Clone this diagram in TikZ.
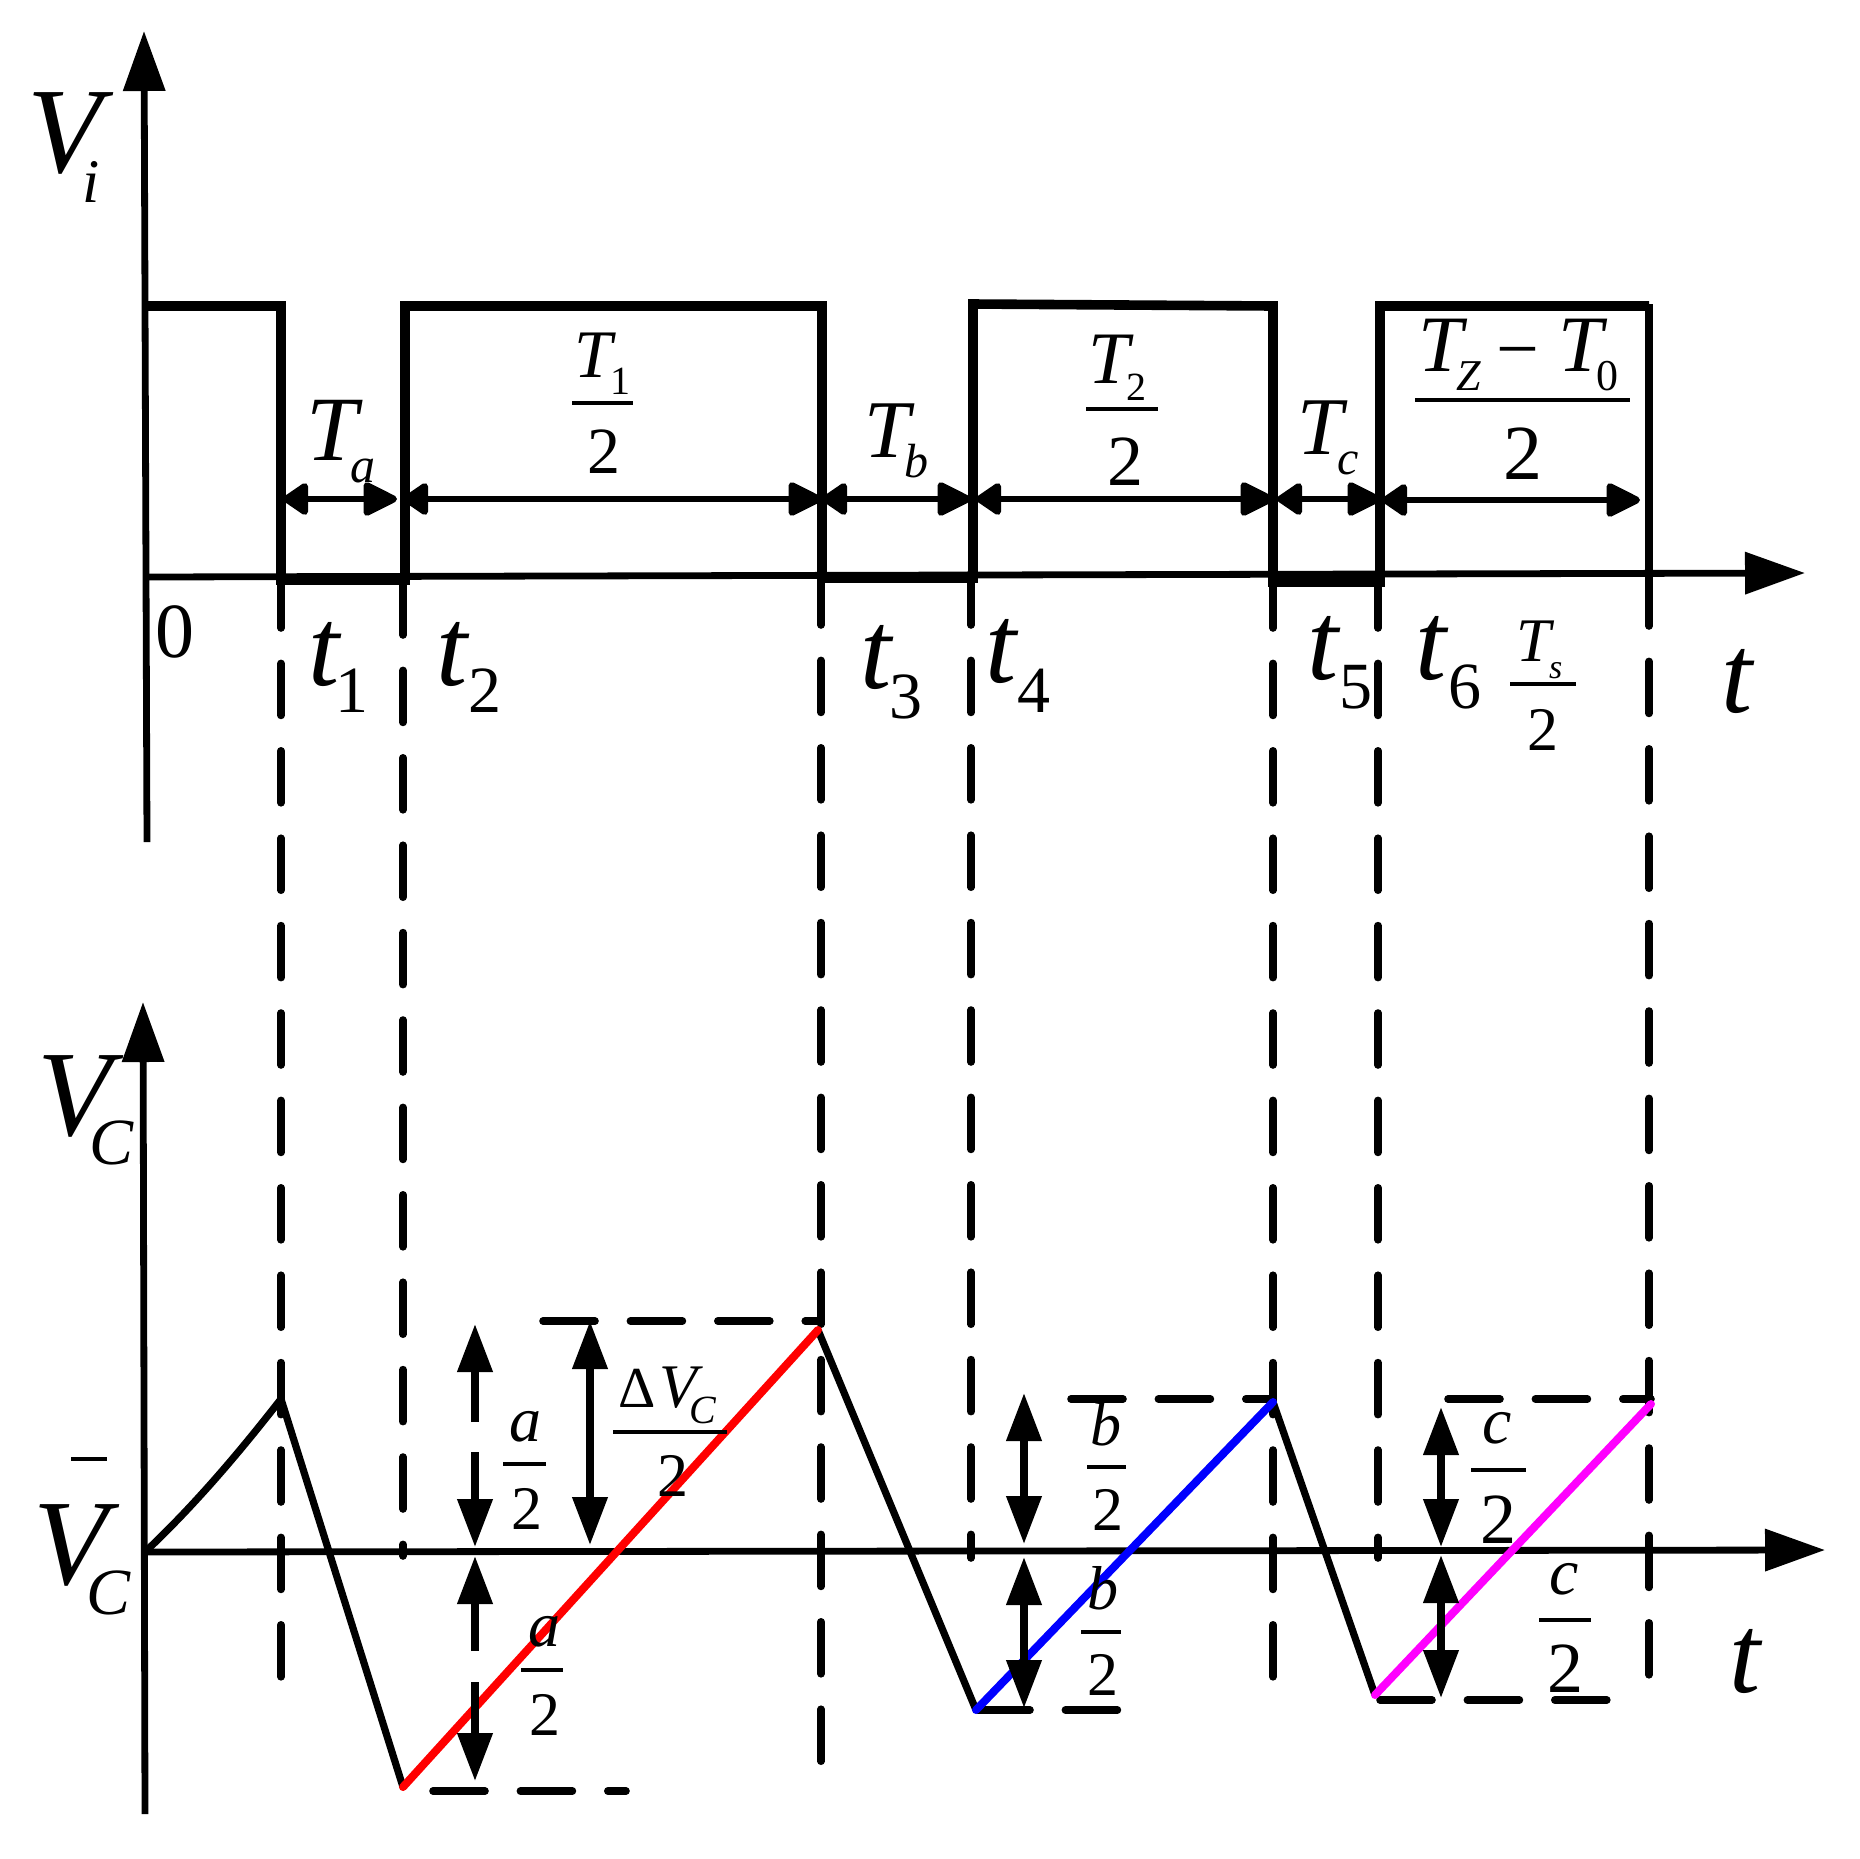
\documentclass[tikz,border=0pt]{standalone}
\usepackage{fontspec}
\setmainfont{Liberation Serif}
\usetikzlibrary{arrows.meta}
\definecolor{rampred}{RGB}{255,0,0}
\definecolor{rampblue}{RGB}{0,0,255}
\definecolor{rampmag}{RGB}{255,0,255}
\newcounter{lblc}
\newcommand{\lbl}[4]{\stepcounter{lblc}\node[txt,font=\fontsize{#3}{#3}\selectfont] (l\thelblc) at (#1,#2) {#4};}
\tikzset{
 txt/.style={inner sep=0pt,outer sep=0pt,anchor=base west,text=black},
 axisln/.style={line width=3.4pt,black},
 axishead/.style={-{Triangle[length=30pt,width=20.5pt]}},
 pulse/.style={line width=4.8pt,line join=miter,black},
 guide/.style={line width=3.8pt,line cap=round,dash pattern=on 26pt off 17.7pt,black},
 wave/.style={line width=3.6pt,line join=round,black},
 ramp/.style={line width=4pt,line cap=round},
 vshaft/.style={line width=3.7pt,black},
 vtip/.style={vshaft,-{Triangle[length=24pt,width=17pt]}},
 spanarrow/.style={line width=3.4pt,black,{Triangle[length=14pt,width=18pt,round]}-{Triangle[length=19pt,width=18pt,round]}},
 fracbar/.style={line width=2pt,black},
}
\begin{document}
\begin{tikzpicture}[x=0.5pt,y=-0.5pt]
\useasboundingbox (0,0) rectangle (1859,1859);
% time guides
\foreach \n/\x/\ya/\yb in {g1/281/576/1688,g2/403/583/1556,g3/821/573/1772,g4/971/573/1558,g5/1273/576/1685,g6/1378/576/1558,g7/1649/574/1684}{
  \coordinate (\n a) at (\x,\ya);
  \coordinate (\n b) at (\x,\yb);
  \draw[guide] (\n a) -- (\n b);
}
% horizontal level guides
\foreach \n/\xa/\xb/\y in {ha/543/821/1321,hb/433/626/1791,hc/1071/1273/1399,hd/1448/1651/1399,he/978/1122/1710,hf/1380/1610/1700}{
  \coordinate (\n a) at (\xa,\y);
  \coordinate (\n b) at (\xb,\y);
  \draw[guide] (\n a) -- (\n b);
}
% axes of upper plot
\coordinate (v1b) at (147,842); \coordinate (v1t) at (144,31);
\coordinate (h1l) at (147,577); \coordinate (h1r) at (1805,573);
\draw[axisln,axishead] (v1b) -- (v1t);
\draw[axisln,axishead] (h1l) -- (h1r);
% pulses
\draw[pulse] (147,306) -- (281,306) -- (281,580) -- (405,580) -- (405,306) -- (822,306) -- (822,578) -- (973,578)
  -- (973,304) -- (1273,306) -- (1273,582) -- (1380,582) -- (1380,306) -- (1649,306);
\draw[axisln,line width=3.8pt] (1649,304) -- (1649,574);
% axes of lower plot
\coordinate (v2b) at (145,1814); \coordinate (v2t) at (143,1002);
\coordinate (h2l) at (145,1552); \coordinate (h2r) at (1825,1550);
\draw[axisln,axishead] (v2b) -- (v2t);
\draw[axisln,axishead] (h2l) -- (h2r);
% waveform
\coordinate (w0) at (145,1552); \coordinate (w1) at (281,1399); \coordinate (w2) at (403,1787);
\coordinate (w3) at (818,1330); \coordinate (w4) at (976,1710); \coordinate (w5) at (1273,1402);
\coordinate (w6) at (1375,1695); \coordinate (w7) at (1651,1404);
\draw[wave] (w0) .. controls (200,1500) and (245,1445) .. (w1);
\draw[wave] (w1) -- (w2);
\draw[wave] (w3) -- (w4);
\draw[wave] (w5) -- (w6);
\draw[ramp,rampred] (w2) -- (w3);
\draw[ramp,rampblue] (w4) -- (w5);
\draw[ramp,rampmag] (w6) -- (w7);
% horizontal span arrows
\foreach \n/\a/\b/\y in {a/283/397/499,b/403/822/499,c/822/971/499,d/976/1274/499,e/1277/1381/499,f/1382/1640/500}{
  \coordinate (s\n l) at (\a,\y);
  \coordinate (s\n r) at (\b,\y);
  \draw[spanarrow] (s\n l) -- (s\n r);
}
% vertical dimension arrows
\foreach \n/\xx/\ya/\yb/\yc/\yd in {
  a/475/1324/1422/1452/1547,
  b/475/1556/1651/1682/1781,
  c/1024/1393/1470/1470/1544,
  d/1024/1557/1635/1635/1708,
  e/1441/1407/1478/1478/1547,
  f/1441/1555/1625/1625/1698,
  g/590/1321/1420/1420/1545}{
  \coordinate (d\n t) at (\xx,\ya);
  \coordinate (d\n u) at (\xx,\yb);
  \coordinate (d\n l) at (\xx,\yc);
  \coordinate (d\n e) at (\xx,\yd);
  \draw[vtip] (d\n u) -- (d\n t);
  \draw[vtip] (d\n l) -- (d\n e);
}
% labels: upper plot
\lbl{27}{172}{61pt}{\itshape V}
\lbl{83}{202}{31pt}{\itshape i}
\lbl{155}{657}{39pt}{0}
\lbl{308}{685}{56pt}{\itshape t}
\lbl{335}{712}{33pt}{1}
\lbl{436}{685}{56pt}{\itshape t}
\lbl{468}{712}{33pt}{2}
\lbl{860}{688}{56pt}{\itshape t}
\lbl{889}{718}{33pt}{3}
\lbl{985}{682}{56pt}{\itshape t}
\lbl{1017}{712}{33pt}{4}
\lbl{1307}{679}{56pt}{\itshape t}
\lbl{1339}{708}{33pt}{5}
\lbl{1415}{679}{56pt}{\itshape t}
\lbl{1448}{708}{33pt}{6}
\lbl{1516}{661}{31pt}{\itshape T}
\lbl{1549}{678}{17pt}{\itshape s}
\draw[fracbar] (1510,684) -- (1576,684);
\lbl{1527}{750}{31pt}{2}
\lbl{1721}{712}{56pt}{\itshape t}
\lbl{306}{460}{46pt}{\itshape T}
\lbl{350}{482}{25pt}{\itshape a}
\lbl{574}{377}{34pt}{\itshape T}
\lbl{610}{394}{20pt}{1}
\draw[fracbar] (572,403) -- (633,403);
\lbl{587}{473}{33pt}{2}
\lbl{864}{457}{41pt}{\itshape T}
\lbl{904}{477}{24pt}{\itshape b}
\lbl{1088}{383}{37pt}{\itshape T}
\lbl{1126}{400}{20pt}{2}
\draw[fracbar] (1086,409) -- (1158,409);
\lbl{1107}{485}{36pt}{2}
\lbl{1297}{454}{41pt}{\itshape T}
\lbl{1337}{474}{24pt}{\itshape c}
\lbl{1418}{371}{40pt}{\itshape T}
\lbl{1456}{390}{22pt}{\itshape Z}
\lbl{1496}{374}{38pt}{−}
\lbl{1558}{371}{40pt}{\itshape T}
\lbl{1596}{390}{22pt}{0}
\draw[fracbar] (1415,400) -- (1630,400);
\lbl{1503}{479}{39pt}{2}
% labels: lower plot
\lbl{37}{1135}{61pt}{\itshape V}
\lbl{90}{1164}{33pt}{\itshape C}
\draw[fracbar] (71,1459) -- (107,1459);
\lbl{33}{1584}{61pt}{\itshape V}
\lbl{86}{1614}{33pt}{\itshape C}
\lbl{509}{1441}{32pt}{\itshape a}
\draw[fracbar] (503,1464) -- (546,1464);
\lbl{511}{1529}{31pt}{2}
\lbl{618}{1407}{29pt}{Δ}
\lbl{659}{1407}{31pt}{\itshape V}
\lbl{689}{1423}{20pt}{\itshape C}
\draw[fracbar] (613,1432) -- (727,1432);
\lbl{657}{1496}{31pt}{2}
\lbl{528}{1646}{32pt}{\itshape a}
\draw[fracbar] (521,1670) -- (563,1670);
\lbl{529}{1735}{31pt}{2}
\lbl{1090}{1445}{31pt}{\itshape b}
\draw[fracbar] (1087,1467) -- (1126,1467);
\lbl{1092}{1530}{31pt}{2}
\lbl{1087}{1609}{31pt}{\itshape b}
\draw[fracbar] (1081,1632) -- (1121,1632);
\lbl{1087}{1695}{31pt}{2}
\lbl{1482}{1443}{33pt}{\itshape c}
\draw[fracbar] (1471,1470) -- (1526,1470);
\lbl{1480}{1543}{36pt}{2}
\lbl{1549}{1594}{33pt}{\itshape c}
\draw[fracbar] (1539,1620) -- (1591,1620);
\lbl{1547}{1692}{36pt}{2}
\lbl{1729}{1692}{56pt}{\itshape t}
\end{tikzpicture}
\end{document}
